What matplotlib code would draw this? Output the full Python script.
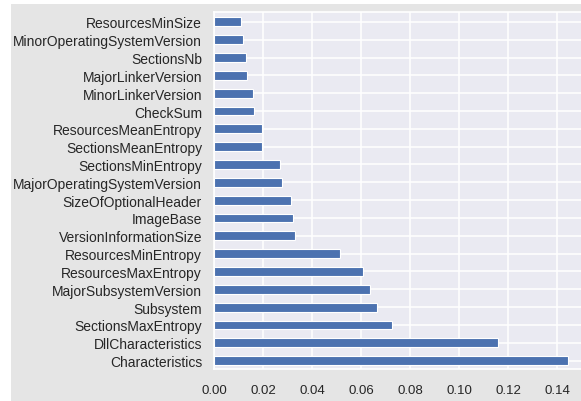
import matplotlib
matplotlib.use('Agg')
import matplotlib.pyplot as plt
import matplotlib.patches as patches

features = ['Characteristics', 'DllCharacteristics', 'SectionsMaxEntropy', 'Subsystem',
            'MajorSubsystemVersion', 'ResourcesMaxEntropy', 'ResourcesMinEntropy',
            'VersionInformationSize', 'ImageBase', 'SizeOfOptionalHeader',
            'MajorOperatingSystemVersion', 'SectionsMinEntropy', 'SectionsMeanEntropy',
            'ResourcesMeanEntropy', 'CheckSum', 'MinorLinkerVersion', 'MajorLinkerVersion',
            'SectionsNb', 'MinorOperatingSystemVersion', 'ResourcesMinSize']
importance = [0.1444, 0.1159, 0.0727, 0.0665, 0.0637, 0.0606, 0.0516, 0.0330, 0.0322, 0.0316,
              0.0278, 0.0271, 0.0194, 0.0194, 0.0163, 0.0159, 0.0135, 0.0130, 0.0118, 0.0112]
xticks = [0.00, 0.02, 0.04, 0.06, 0.08, 0.10, 0.12, 0.14]

plt.rcParams['font.family'] = ['Liberation Sans', 'DejaVu Sans']

W, H = 581, 402
fig = plt.figure(figsize=(W / 100, H / 100), dpi=100)
fig.patch.set_facecolor('white')
# grey canvas, offset a little from the top/left like the screenshot
fig.patches.append(patches.Rectangle((11 / W, 0), 1, (H - 5) / H, transform=fig.transFigure,
                                     facecolor='#e5e5e5', edgecolor='none', zorder=-10))

ax = fig.add_axes([214 / W, (H - 370) / H, (585.5 - 214) / W, (370 - 12.7) / H])
ax.set_facecolor('#eaeaf2')
ax.set_axisbelow(True)
ax.grid(True, color='white', linewidth=1.1)
for s in ax.spines.values():
    s.set_color('white')
    s.set_linewidth(1.2)

ypos = list(range(len(features)))
ax.barh(ypos, importance, height=0.5, color='#4c72b0', edgecolor='white', linewidth=0.8)
ax.set_yticks(ypos)
ax.set_yticklabels(features, fontsize=10, color='#262626')
ax.set_xticks(xticks)
ax.set_xticklabels(['%.2f' % t for t in xticks], fontsize=9.5, color='#262626')
ax.tick_params(axis='both', length=0)
ax.tick_params(axis='y', pad=8.6)
ax.tick_params(axis='x', pad=10.5)
ax.set_xlim(0, 0.1516)
ax.set_ylim(-0.47, 19.57)

fig.savefig('out.png', dpi=100, facecolor=fig.get_facecolor())
